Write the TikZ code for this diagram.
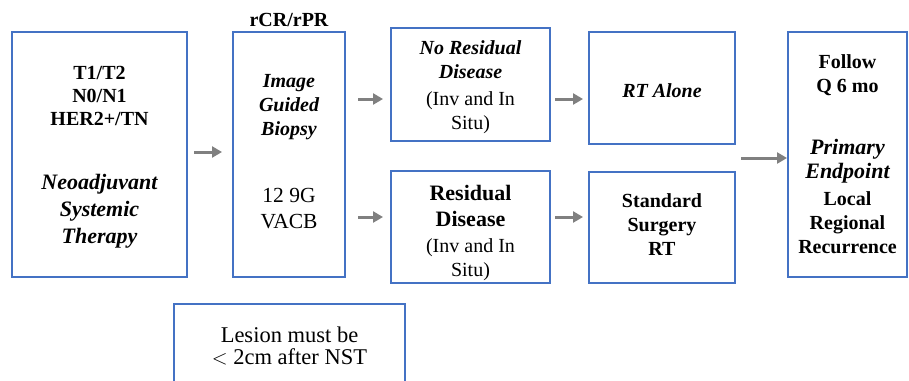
\documentclass[tikz,border=0pt]{standalone}
\usepackage{fontspec}
\setmainfont{Liberation Serif}
\usetikzlibrary{arrows.meta}
\definecolor{boxblue}{HTML}{4472C4}
\definecolor{arrgray}{HTML}{808080}
\newcommand{\fsz}[2]{\fontsize{#1}{#2}\selectfont}
\tikzset{
  box/.style={draw=boxblue, line width=2pt, inner sep=0pt, outer sep=0pt},
  arr/.style={draw=arrgray, line width=3pt, -{Triangle[length=10pt,width=11pt]}},
  txt/.style={align=center, inner sep=0pt},
}
\begin{document}
\begin{tikzpicture}[x=1pt,y=-1pt]
\useasboundingbox (0,0) rectangle (909,380);
% boxes
\node[box, minimum width=175, minimum height=245, anchor=north west] (b1) at (12,32) {};
\node[box, minimum width=112, minimum height=245, anchor=north west] (b2) at (233,32) {};
\node[box, minimum width=159, minimum height=113, anchor=north west] (b3a) at (391,28) {};
\node[box, minimum width=159, minimum height=112, anchor=north west] (b3b) at (391,171) {};
\node[box, minimum width=146, minimum height=112, anchor=north west] (b4a) at (589,32) {};
\node[box, minimum width=146, minimum height=111, anchor=north west] (b4b) at (589,172) {};
\node[box, minimum width=119, minimum height=245, anchor=north west] (b5) at (788,32) {};
\node[box, minimum width=231, minimum height=100, anchor=north west] (b6) at (174,304) {};
% texts
\node[txt, font=\bfseries\fsz{20}{23}] (t1a) at (99.5,96) {T1/T2\\N0/N1\\HER2+/TN};
\node[txt, font=\bfseries\itshape\fsz{22}{27}] (t1b) at (99.5,211) {Neoadjuvant\\Systemic\\Therapy};
\node[txt, font=\bfseries\fsz{20}{23}] (t2l) at (289,20) {rCR/rPR};
\node[txt, font=\bfseries\itshape\fsz{20}{24}] (t2a) at (289,107) {Image\\Guided\\Biopsy};
\node[txt, font=\fsz{21.5}{26}] (t2b) at (289,209) {12 9G\\VACB};
\node[txt, font=\bfseries\itshape\fsz{20}{24}] (t3a) at (470.5,60) {No Residual\\Disease};
\node[txt, font=\fsz{20}{24}] (t3b) at (470.5,113) {(Inv and In\\Situ)};
\node[txt, font=\bfseries\fsz{22}{26}] (t3c) at (470.5,206) {Residual\\Disease};
\node[txt, font=\fsz{20}{24}] (t3d) at (470.5,260) {(Inv and In\\Situ)};
\node[txt, font=\bfseries\itshape\fsz{20}{24}] (t4a) at (662,91) {RT Alone};
\node[txt, font=\bfseries\fsz{20}{24}] (t4b) at (662,225) {Standard\\Surgery\\RT};
\node[txt, font=\bfseries\fsz{20}{24}] (t5a) at (847.5,75) {Follow\\Q 6 mo};
\node[txt, font=\bfseries\itshape\fsz{22}{24}] (t5b) at (847.5,161) {Primary\\Endpoint};
\node[txt, font=\bfseries\fsz{20}{24}] (t5c) at (847.5,223) {Local\\Regional\\Recurrence};
\node[txt, font=\fsz{22.5}{22}] (t6) at (289.5,346) {Lesion must be\\$<$ 2cm after NST};
% arrow levels
\coordinate (ya) at (0,99);
\coordinate (yb) at (0,217);
\coordinate (yc) at (0,152);
\coordinate (yd) at (0,158);
% arrows
\draw[arr] ([xshift=7pt]b1.east |- yc) -- ([xshift=-11pt]b2.west |- yc);
\draw[arr] ([xshift=13pt]b2.east |- ya) -- ([xshift=-8pt]b3a.west |- ya);
\draw[arr] ([xshift=13pt]b2.east |- yb) -- ([xshift=-8pt]b3b.west |- yb);
\draw[arr] ([xshift=5pt]b3a.east |- ya) -- ([xshift=-6pt]b4a.west |- ya);
\draw[arr] ([xshift=5pt]b3b.east |- yb) -- ([xshift=-6pt]b4b.west |- yb);
\draw[arr] ([xshift=6pt]b4a.east |- yd) -- ([xshift=-1pt]b5.west |- yd);
\end{tikzpicture}
\end{document}
